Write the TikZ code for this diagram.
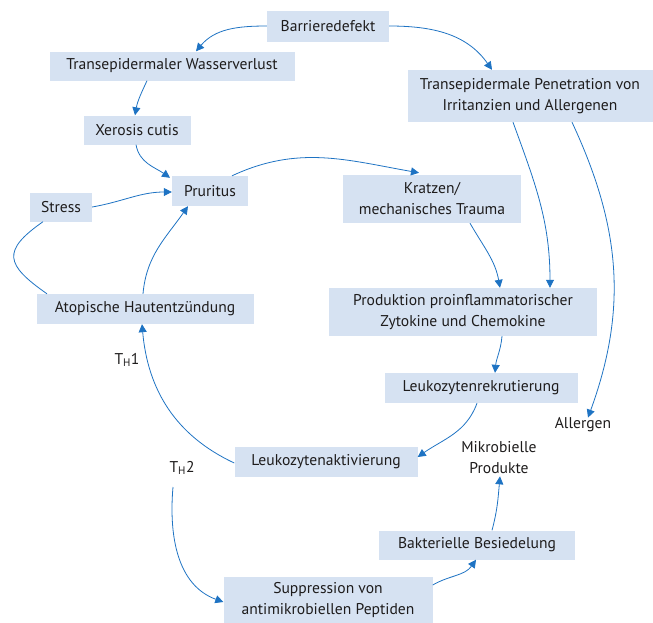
\documentclass[tikz,border=0pt]{standalone}
\usepackage{fontspec}
\setmainfont{PT Sans}
\usetikzlibrary{arrows.meta}
\definecolor{boxblue}{RGB}{214,226,242}
\definecolor{arrblue}{RGB}{30,115,195}
\definecolor{txt}{RGB}{30,28,28}
\tikzset{
  box/.style={fill=boxblue, inner sep=0pt, align=center, text=txt, font=\fontsize{15.6}{21}\selectfont},
  lbl/.style={inner sep=0pt, align=center, text=txt, font=\fontsize{15.6}{21}\selectfont},
  arr/.style={draw=arrblue, line width=0.8pt, -{Triangle[length=8pt,width=8pt]}},
  lin/.style={draw=arrblue, line width=0.8pt}
}
\begin{document}
\begin{tikzpicture}[x=1pt,y=1pt]
\useasboundingbox (0,0) rectangle (653,-622);
\begin{scope}
\clip (0,0) rectangle (653,-622);
\node[box, minimum width=122pt, minimum height=31pt] (bar) at (328,-26) {Barrieredefekt};
\node[box, minimum width=245pt, minimum height=29pt] (wv) at (172,-66) {Transepidermaler Wasserverlust};
\node[box, minimum width=107pt, minimum height=29pt] (xc) at (137,-130) {Xerosis cutis};
\node[box, minimum width=76pt, minimum height=30pt] (pr) at (210,-191) {Pruritus};
\node[box, minimum width=62pt, minimum height=29pt] (st) at (61,-207) {Stress};
\node[box, minimum width=245pt, minimum height=52pt] (pen) at (530,-96) {Transepidermale Penetration von\\Irritanzien und Allergenen};
\node[box, minimum width=178pt, minimum height=48pt] (kr) at (432,-199) {Kratzen/\\mechanisches Trauma};
\node[box, minimum width=217pt, minimum height=30pt] (at) at (145,-309) {Atopische Hautentzündung};
\node[box, minimum width=268pt, minimum height=48pt] (prod) at (463,-312) {Produktion proinflammatorischer\\Zytokine und Chemokine};
\node[box, minimum width=193pt, minimum height=30pt] (lr) at (481,-388) {Leukozytenrekrutierung};
\node[box, minimum width=183pt, minimum height=30pt] (la) at (326,-462) {Leukozytenaktivierung};
\node[box, minimum width=196pt, minimum height=29pt] (bak) at (477,-545) {Bakterielle Besiedelung};
\node[box, minimum width=209pt, minimum height=46pt] (sup) at (328,-600) {Suppression von\\antimikrobiellen Peptiden};
\node[lbl] (all) at (583,-425) {Allergen};
\node[lbl] (mik) at (499,-458) {Mikrobielle\\Produkte};
\node[lbl] (th1) at (127,-360) {T\textsubscript{H}1};
\node[lbl] (th2) at (182,-468) {T\textsubscript{H}2};
\coordinate (th2s) at (173,-487);
\end{scope}
% arrows
\draw[arr] (bar.west) to[out=180,in=50] ([xshift=24pt]wv.north);
\draw[arr] (bar.east) to[out=0,in=125] ([xshift=-38pt]pen.north);
\draw[arr] ([xshift=-25pt]wv.south) to[out=-115,in=80] ([xshift=-2pt]xc.north);
\draw[arr] ([xshift=-1pt]xc.south) to[out=-80,in=145] ([xshift=-40pt,yshift=-2pt]pr.north);
\draw[arr] (st.east) to[out=10,in=180] ([yshift=-1pt]pr.west);
\draw[arr] ([xshift=22pt]pr.north) to[out=25,in=170] ([xshift=-13pt,yshift=2pt]kr.north);
\draw[lin] ([xshift=-18pt]st.south) to[out=215,in=145,looseness=1.8] ([xshift=-98pt]at.north);
\draw[arr] ([xshift=-2pt]at.north) to[out=85,in=-125] ([xshift=-22pt]pr.south);
\draw[arr] ([xshift=38pt]kr.south) to[out=-60,in=100] ([xshift=37pt]prod.north);
\draw[arr] ([xshift=-17pt]pen.south) to[out=-70,in=90] ([xshift=87pt]prod.north);
\draw[arr] ([xshift=42pt]pen.south) to[out=-65,in=70] ([xshift=5pt]all.north);
\draw[arr] ([xshift=39pt]prod.south) to[out=-95,in=85] ([xshift=14pt]lr.north);
\draw[arr] ([xshift=-4pt]lr.south) to[out=-110,in=35] ([yshift=5pt]la.east);
\draw[arr] ([yshift=-1pt]la.west) to[out=155,in=-85] ([xshift=-3pt]at.south);
\draw[arr] (th2s) to[out=-95,in=160] ([yshift=-2pt]sup.west);
\draw[arr] ([yshift=15pt]sup.east) to[out=30,in=-125] ([xshift=-1pt]bak.south);
\draw[arr] ([xshift=15pt]bak.north) to[out=75,in=-95] ([xshift=1pt,yshift=-2pt]mik.south);
\end{tikzpicture}
\end{document}
